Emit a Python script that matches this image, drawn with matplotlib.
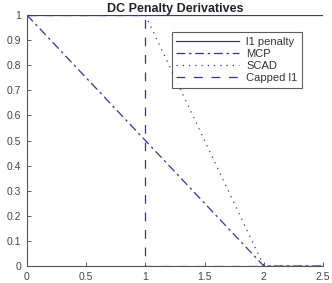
import matplotlib
matplotlib.use('Agg')
import matplotlib.pyplot as plt

#---    Data
x_l1 = [0, 2.5]
y_l1 = [1, 1]
x_mcp = [0, 2, 2.5]
y_mcp = [1, 0, 0]
x_scad = [0, 1, 2, 2.5]
y_scad = [1, 1, 0, 0]
x_cap = [0, 1, 1, 2.5]
y_cap = [1, 1, 0, 0]
labels = ['l1 penalty', 'MCP', 'SCAD', 'Capped l1']

plt.rcParams['font.family'] = ['Liberation Sans', 'DejaVu Sans']
col = '#33339e'

fig = plt.figure(figsize=(3.32, 2.83), dpi=100)
ax = fig.add_axes([0.081, 0.060, 0.892, 0.887])
ax.plot(x_l1, y_l1, color=col, linewidth=0.9, linestyle='-', label=labels[0])
ax.plot(x_mcp, y_mcp, color=col, linewidth=0.9, linestyle=(0, (7, 3, 2, 3)), label=labels[1])
ax.plot(x_scad, y_scad, color=col, linewidth=0.9, linestyle=(0, (1, 4)), label=labels[2])
ax.plot(x_cap, y_cap, color=col, linewidth=0.9, linestyle=(0, (7, 7)), label=labels[3])

ax.set_xlim(0, 2.5)
ax.set_ylim(0, 1)
ax.set_xticks([0, 0.5, 1, 1.5, 2, 2.5])
ax.set_xticklabels(['0', '0.5', '1', '1.5', '2', '2.5'])
ax.set_yticks([i / 10 for i in range(11)])
ax.set_yticklabels(['0'] + ['0.%d' % i for i in range(1, 10)] + ['1'])
ax.tick_params(direction='in', length=3, width=0.6, labelsize=7.5, colors='#444444', pad=4)
for s in ['top', 'right']:
    ax.spines[s].set_visible(False)
for s in ['left', 'bottom']:
    ax.spines[s].set_color('#555555')
    ax.spines[s].set_linewidth(0.8)

leg = ax.legend(loc='upper right', bbox_to_anchor=(0.929, 0.932), borderaxespad=0, fontsize=8,
                frameon=True, fancybox=False, handlelength=5.6, borderpad=0.4, labelspacing=0.2,
                handletextpad=0.7)
leg.get_frame().set_edgecolor('#333333')
leg.get_frame().set_linewidth(0.8)
for t in leg.get_texts():
    t.set_color('#333333')

ax.set_title('DC Penalty Derivatives', fontsize=9, weight='bold', pad=2, color='#222222')

plt.savefig('out.png', dpi=100)
